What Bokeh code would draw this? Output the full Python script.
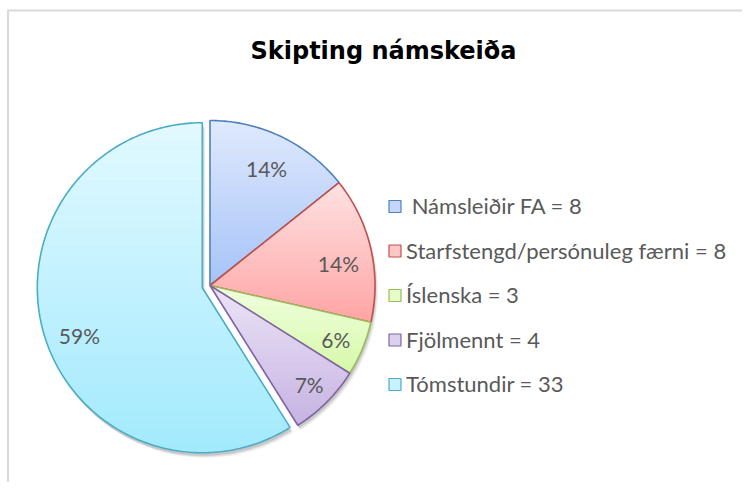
import numpy as np
from bokeh.plotting import figure
from bokeh.models import Range1d
from bokeh.core.properties import value
from bokeh.embed import file_html
from bokeh.resources import INLINE

# ---- data ----
categories = ["Námsleiðir FA", "Starfstengd/persónuleg færni", "Íslenska", "Fjölmennt", "Tómstundir"]
counts = [8, 8, 3, 4, 33]
pct_labels = ["14%", "14%", "6%", "7%", "59%"]
legend_labels = ["\u00a0Námsleiðir FA = 8", "Starfstengd/persónuleg færni = 8", "Íslenska = 3",
                 "Fjölmennt = 4", "Tómstundir = 33"]
title_text = "Skipting námskeiða"

# ---- styles ----
top_colors = ["#dfe9fd", "#ffe2e2", "#f1ffe0", "#ece4f7", "#e2f9ff"]
bot_colors = ["#a6c3f8", "#ffa4a4", "#d6f9a8", "#c6b3e2", "#a2eafd"]
mid_colors = ["#c4d7fa", "#ffc6c6", "#e6fcc8", "#dbd0ee", "#c8f2fe"]
edge_colors = ["#4f81bd", "#c0504d", "#9bbb59", "#8064a2", "#4bacc6"]
explode = [0, 0, 0, 0, 8]
label_r = [0.79, 0.79, 0.83, 0.85, 0.80]
label_t = [0.5, 0.56, 0.54, 0.5, 0.475]

W, H = 742, 482
p = figure(width=W, height=H, output_backend="svg", toolbar_location=None,
           x_range=Range1d(0, W), y_range=Range1d(H, 0),
           min_border=0)
p.axis.visible = False
p.grid.visible = False
p.outline_line_color = None
p.background_fill_color = "white"

# chart-area border (top and left edges visible)
p.line([7.5, 7.5, W + 20], [H + 20, 10, 10], line_color="#d9d9d9", line_width=2)

cx, cy, R = 209.5, 285.0, 165.0
vals = np.array(counts, dtype=float)
frac = vals / vals.sum()
ends = np.cumsum(frac) * 2 * np.pi
starts = ends - frac * 2 * np.pi
mids = (starts + ends) / 2


def wedge_poly(i):
    ox = cx + explode[i] * np.sin(mids[i])
    oy = cy - explode[i] * np.cos(mids[i])
    th = np.linspace(starts[i], ends[i], max(8, int(frac[i] * 360)))
    xs = np.concatenate([[ox], ox + R * np.sin(th)])
    ys = np.concatenate([[oy], oy - R * np.cos(th)])
    return xs, ys


def clip(xs, ys, y0, keep_below):
    out_x, out_y = [], []
    n = len(xs)
    inside = lambda y: (y >= y0) if keep_below else (y <= y0)
    for k in range(n):
        x1, y1 = xs[k], ys[k]
        x2, y2 = xs[(k + 1) % n], ys[(k + 1) % n]
        i1, i2 = inside(y1), inside(y2)
        if i1:
            out_x.append(x1); out_y.append(y1)
        if i1 != i2:
            t = (y0 - y1) / (y2 - y1)
            out_x.append(x1 + t * (x2 - x1)); out_y.append(y0)
    return out_x, out_y


def hex2rgb(h):
    h = h.lstrip("#")
    return np.array([int(h[j:j + 2], 16) for j in (0, 2, 4)], dtype=float)


def rgb2hex(c):
    return "#%02x%02x%02x" % tuple(int(round(v)) for v in c)


polys = [wedge_poly(i) for i in range(len(counts))]

# soft shadow
for dx, dy, a in [(3, 5, 0.06), (2, 4, 0.08), (1, 3, 0.10)]:
    p.patches([list(px + dx) for px, _ in polys], [list(py + dy) for _, py in polys],
              fill_color="#000000", fill_alpha=a, line_color=None)

# gradient fills
N = 40
for i, (xs, ys) in enumerate(polys):
    ymin, ymax = ys.min(), ys.max()
    c0, c1 = hex2rgb(top_colors[i]), hex2rgb(bot_colors[i])
    bx, by, bc = [], [], []
    edges = np.linspace(ymin, ymax, N + 1)
    for b in range(N):
        ax_, ay_ = clip(list(xs), list(ys), edges[b] - 0.3, True)
        if len(ax_) < 3:
            continue
        ax_, ay_ = clip(ax_, ay_, edges[b + 1] + 0.3, False)
        if len(ax_) < 3:
            continue
        t = (b + 0.5) / N
        bx.append(ax_); by.append(ay_); bc.append(rgb2hex(c0 + (c1 - c0) * t))
    p.patches(bx, by, fill_color=bc, line_color=None)
    p.patch(list(xs), list(ys), fill_color=None, line_color=edge_colors[i], line_width=1.6)

# percentage labels
lx, ly = [], []
for i in range(len(counts)):
    ox = cx + explode[i] * np.sin(mids[i])
    oy = cy - explode[i] * np.cos(mids[i])
    ang = starts[i] + label_t[i] * (ends[i] - starts[i])
    lx.append(ox + label_r[i] * R * np.sin(ang))
    ly.append(oy - label_r[i] * R * np.cos(ang))
p.text(lx, ly, text=pct_labels, text_align="center", text_baseline="middle",
       text_font=value("Lato"), text_font_size="21px", text_color="#595959")

# title
p.text([383], [50], text=[title_text], text_align="center", text_baseline="middle",
       text_font=value("DejaVu Sans"), text_font_style="bold", text_font_size="24px",
       text_color="#000000")

# legend
leg_x, leg_y0, leg_dy = 394.5, 206, 44.5
rows = np.arange(len(categories))
ly_leg = leg_y0 + rows * leg_dy
p.rect([leg_x] * len(rows), list(ly_leg), width=12, height=12,
       fill_color=mid_colors, line_color=edge_colors, line_width=1.2)
p.text([leg_x + 11] * len(rows), list(ly_leg - 1), text=legend_labels, text_align="left",
       text_baseline="middle", text_font=value("Lato"), text_font_size="22px",
       text_color="#595959")

open("out.html", "w").write(file_html(p, INLINE))
